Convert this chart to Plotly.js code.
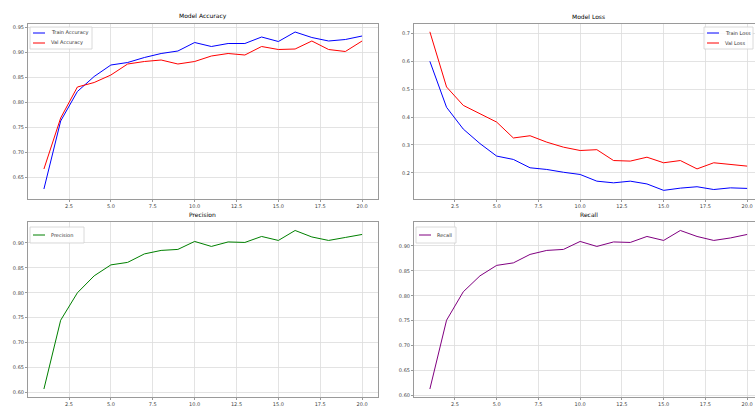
<!DOCTYPE html>
<html>
<head>
<meta charset="utf-8">
<script src="https://cdn.plot.ly/plotly-3.0.1.min.js"></script>
<style>
html,body{margin:0;padding:0;overflow:hidden;background:#fff;width:755px;height:407px;}
#chart{width:770px;height:412px;}
</style>
</head>
<body>
<div id="chart"></div>
<script>
const epochs = [1,2,3,4,5,6,7,8,9,10,11,12,13,14,15,16,17,18,19,20];
const trainAcc = [0.627,0.763,0.822,0.852,0.875,0.880,0.890,0.898,0.903,0.920,0.912,0.918,0.918,0.931,0.922,0.941,0.930,0.923,0.926,0.933];
const valAcc = [0.667,0.769,0.831,0.840,0.855,0.877,0.882,0.885,0.877,0.882,0.893,0.898,0.895,0.912,0.906,0.907,0.923,0.906,0.902,0.923];
const trainLoss = [0.600,0.435,0.357,0.305,0.260,0.248,0.218,0.212,0.202,0.194,0.170,0.164,0.170,0.160,0.137,0.145,0.150,0.140,0.146,0.144];
const valLoss = [0.706,0.508,0.442,0.412,0.382,0.325,0.333,0.310,0.292,0.280,0.283,0.244,0.242,0.256,0.236,0.244,0.214,0.236,0.229,0.224];
const precision = [0.607,0.745,0.800,0.834,0.856,0.861,0.878,0.885,0.887,0.903,0.893,0.902,0.901,0.913,0.905,0.925,0.912,0.905,0.911,0.917];
const recall = [0.613,0.751,0.808,0.840,0.861,0.866,0.883,0.891,0.893,0.909,0.899,0.908,0.907,0.919,0.911,0.931,0.919,0.911,0.916,0.923];
const xTicks = [2.5,5.0,7.5,10.0,12.5,15.0,17.5,20.0];
const accTicks = [0.65,0.70,0.75,0.80,0.85,0.90,0.95];
const lossTicks = [0.2,0.3,0.4,0.5,0.6,0.7];
const prTicks = [0.60,0.65,0.70,0.75,0.80,0.85,0.90];
const titles = ["Model Accuracy","Model Loss","Precision","Recall"];
const seriesNames = ["Train Accuracy","Val Accuracy","Train Loss","Val Loss","Precision","Recall"];
const colors = ["blue","red","blue","red","green","purple"];

const W = 770, H = 412;
const lw = 1;
const axes = [["x","y"],["x","y"],["x2","y2"],["x2","y2"],["x3","y3"],["x4","y4"]];
const ys = [trainAcc,valAcc,trainLoss,valLoss,precision,recall];
const traces = ys.map((yv,i)=>({x:epochs,y:yv,name:seriesNames[i],mode:"lines",
  line:{color:colors[i],width:lw},xaxis:axes[i][0],yaxis:axes[i][1],showlegend:false}));

const px = v => v/W, py = v => 1 - v/H;
const L = [px(28), px(378)], R = [px(414), px(763)];
const T = [py(199), py(24)], B = [py(397), py(222)];
const font = {family:"DejaVu Sans, sans-serif", size:5, color:"#444"};
function xa(dom, anchor){
  return {domain:dom, anchor:anchor, range:[0.05,20.95], tickvals:xTicks, tickformat:".1f",
    showgrid:true, gridcolor:"#dcdcdc", gridwidth:0.8, showline:true, mirror:true, linecolor:"#9a9a9a", linewidth:1,
    ticks:"outside", ticklen:2, tickcolor:"#9a9a9a", tickfont:font, zeroline:false};
}
function ya(dom, anchor, range, tv, fmt){
  return {domain:dom, anchor:anchor, range:range, tickvals:tv, tickformat:fmt,
    showgrid:true, gridcolor:"#dcdcdc", gridwidth:0.8, showline:true, mirror:true, linecolor:"#9a9a9a", linewidth:1,
    ticks:"outside", ticklen:2, tickcolor:"#9a9a9a", tickfont:font, zeroline:false};
}
const tFont = {family:"DejaVu Sans, sans-serif", size:6, color:"#000"};
const lFont = {family:"DejaVu Sans, sans-serif", size:5, color:"#333"};

// custom compact legends: [boxLeft, boxTop, boxRight, boxBottom, entries:[[seriesIndex, y]]]
const legends = [
  [30, 27, 92, 49, [[0,33],[1,43]]],
  [704, 27, 753, 49, [[2,33],[3,43]]],
  [30, 227, 84, 243, [[4,235]]],
  [416, 227, 456, 243, [[5,235]]]
];
const shapes = [], annotations = [];
legends.forEach(lg=>{
  shapes.push({type:"rect", xref:"paper", yref:"paper", x0:px(lg[0]), x1:px(lg[2]), y0:py(lg[3]), y1:py(lg[1]),
    line:{color:"#d0d0d0", width:0.8}, fillcolor:"rgba(255,255,255,0.85)", layer:"above"});
  lg[4].forEach(e=>{
    const xs = lg[0]+3;
    shapes.push({type:"line", xref:"paper", yref:"paper", x0:px(xs), x1:px(xs+12), y0:py(e[1]), y1:py(e[1]),
      line:{color:colors[e[0]], width:1}, layer:"above"});
    annotations.push({text:seriesNames[e[0]], xref:"paper", yref:"paper", x:px(xs+16), y:py(e[1]),
      xanchor:"left", yanchor:"middle", showarrow:false, font:lFont});
  });
});
titles.forEach((t,i)=>{
  const d = (i%2===0)?L:R, top = (i<2)?T[1]:B[1];
  annotations.push({text:t, x:(d[0]+d[1])/2, y:top, xref:"paper", yref:"paper", xanchor:"center", yanchor:"bottom",
    yshift:2, showarrow:false, font:tFont});
});

const layout = {
  width:W, height:H, margin:{l:0,r:0,t:0,b:0}, paper_bgcolor:"#fff", plot_bgcolor:"#fff",
  showlegend:false,
  xaxis:xa(L,"y"), yaxis:ya(T,"x",[0.607,0.957],accTicks,".2f"),
  xaxis2:xa(R,"y2"), yaxis2:ya(T,"x2",[0.106,0.734],lossTicks,".1f"),
  xaxis3:xa(L,"y3"), yaxis3:ya(B,"x3",[0.591,0.942],prTicks,".2f"),
  xaxis4:xa(R,"y4"), yaxis4:ya(B,"x4",[0.597,0.948],prTicks,".2f"),
  shapes:shapes, annotations:annotations
};
Plotly.newPlot("chart", traces, layout, {displayModeBar:false, staticPlot:true});
</script>
</body>
</html>
